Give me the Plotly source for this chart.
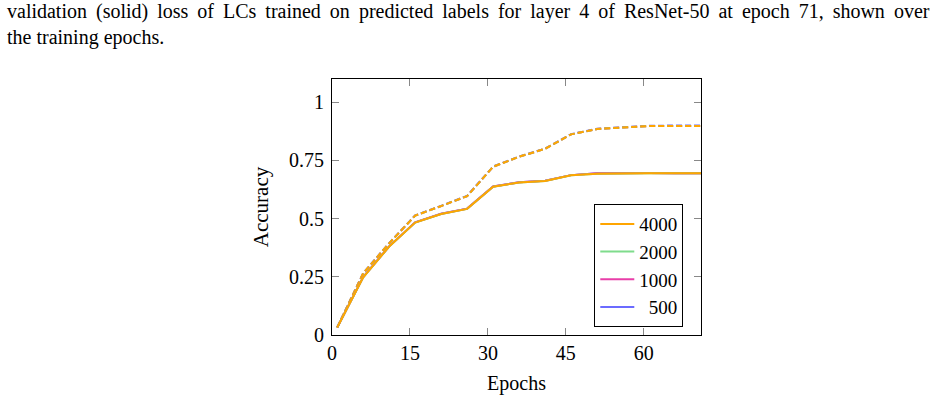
import plotly.graph_objects as go

epochs = [1, 6, 11, 16, 21, 26, 31, 36, 41, 46, 51, 56, 61, 66, 71]

# validation (solid) accuracy per sample count
val_4000 = [0.032, 0.248, 0.380, 0.483, 0.520, 0.542, 0.637, 0.655, 0.662, 0.686, 0.693, 0.695, 0.695, 0.695, 0.695]
val_2000 = [0.032, 0.248, 0.380, 0.483, 0.520, 0.542, 0.637, 0.655, 0.662, 0.686, 0.693, 0.695, 0.695, 0.695, 0.695]
val_1000 = [0.032, 0.249, 0.381, 0.484, 0.521, 0.543, 0.638, 0.656, 0.663, 0.687, 0.695, 0.697, 0.696, 0.695, 0.695]
val_500 = [0.032, 0.249, 0.381, 0.484, 0.521, 0.543, 0.638, 0.656, 0.663, 0.687, 0.695, 0.697, 0.696, 0.695, 0.695]

# training (dashed) accuracy per sample count
train_4000 = [0.032, 0.265, 0.394, 0.513, 0.554, 0.597, 0.723, 0.766, 0.800, 0.862, 0.885, 0.893, 0.898, 0.898, 0.898]
train_2000 = [0.032, 0.265, 0.394, 0.513, 0.554, 0.597, 0.723, 0.766, 0.800, 0.862, 0.885, 0.893, 0.898, 0.898, 0.898]
train_1000 = [0.032, 0.265, 0.394, 0.513, 0.554, 0.597, 0.723, 0.766, 0.800, 0.862, 0.885, 0.893, 0.898, 0.898, 0.898]
train_500 = [0.032, 0.266, 0.395, 0.514, 0.555, 0.598, 0.724, 0.767, 0.801, 0.863, 0.886, 0.894, 0.899, 0.900, 0.900]

labels = ["500", "1000", "2000", "4000"]
colors = ["#6b6bff", "#e83ea8", "#7fdc8c", "#ffa500"]
val_series = [val_500, val_1000, val_2000, val_4000]
train_series = [train_500, train_1000, train_2000, train_4000]
legend_text = ["\u2002500", "1000", "2000", "4000"]

xticks = [0, 15, 30, 45, 60]
yticks = [0, 0.25, 0.5, 0.75, 1]
yticktext = ["0", "0.25", "0.5", "0.75", "1"]

caption_line1 = "validation (solid) loss of LCs trained on predicted labels for layer 4 of ResNet-50 at epoch 71, shown over"
caption_line2 = "the training epochs."

FONT = "Liberation Serif"

fig = go.Figure()
for i, lab in enumerate(labels):
    fig.add_trace(go.Scatter(
        x=epochs, y=train_series[i], mode="lines",
        line=dict(color=colors[i], width=2, dash="6px,3px"),
        showlegend=False, hoverinfo="skip"))
for i, lab in enumerate(labels):
    fig.add_trace(go.Scatter(
        x=epochs, y=val_series[i], mode="lines", name=legend_text[i],
        line=dict(color=colors[i], width=2),
        legendrank=100 - i * 10))

fig.update_layout(
    width=947, height=420,
    margin=dict(l=332, r=246, t=79, b=85),
    paper_bgcolor="white", plot_bgcolor="white",
    font=dict(family=FONT, size=20, color="black"),
    showlegend=True,
    title=dict(
        text=caption_line1.replace(" ", " \u2009") + "<br>" + caption_line2,
        xref="container", yref="container", x=7 / 947, y=1 - 18 / 420,
        xanchor="left", yanchor="top",
        font=dict(family=FONT, size=20, color="black"),
    ),
    legend=dict(
        x=0.952, y=0.031, xanchor="right", yanchor="bottom",
        bordercolor="black", borderwidth=1, bgcolor="white",
        font=dict(family=FONT, size=19),
        itemwidth=34, tracegroupgap=0,
    ),
)
fig.update_xaxes(
    range=[0, 71], tickvals=xticks, ticktext=[str(t) for t in xticks],
    ticks="inside", ticklen=7, tickcolor="#888888", tickwidth=1,
    showline=True, linecolor="black", linewidth=1, mirror="ticks",
    showgrid=False, zeroline=False, ticklabelstandoff=0,
    tickfont=dict(family=FONT, size=20),
    title=dict(text="Epochs", font=dict(family=FONT, size=20), standoff=12),
)
fig.update_yaxes(
    range=[0, 1.1], tickvals=yticks, ticktext=yticktext,
    ticks="inside", ticklen=7, tickcolor="#888888", tickwidth=1,
    showline=True, linecolor="black", linewidth=1, mirror="ticks",
    showgrid=False, zeroline=False, ticklabelstandoff=3,
    tickfont=dict(family=FONT, size=20),
    title=dict(text="Accuracy", font=dict(family=FONT, size=21), standoff=14),
)

fig.write_html("out.html")
